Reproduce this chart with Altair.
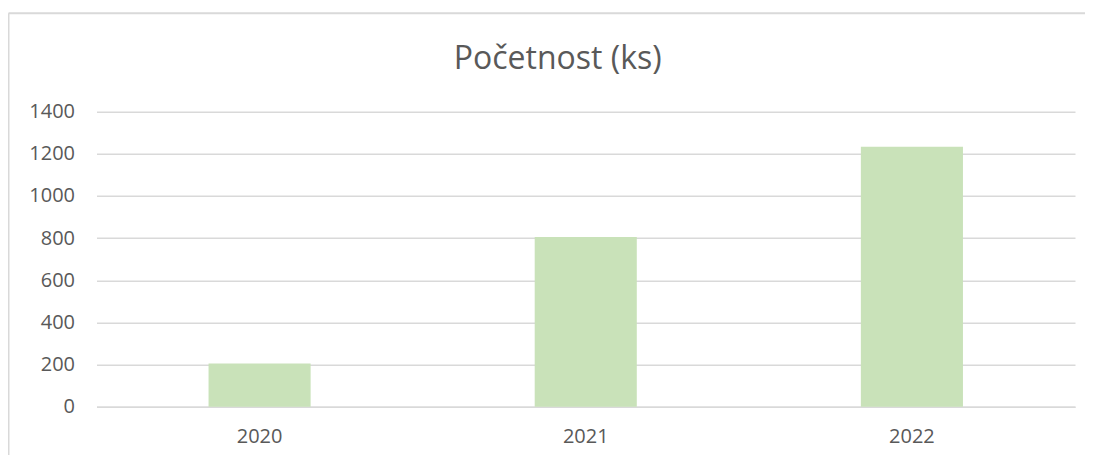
import altair as alt
import pandas as pd

years = ["2020", "2021", "2022"]
counts = [205, 805, 1234]
y_ticks = [0, 200, 400, 600, 800, 1000, 1200, 1400]

df = pd.DataFrame({"year": years, "count": counts})

TEXT = "#595959"
GRID = "#d9d9d9"
FONT = "Open Sans"

bars = alt.Chart(df).mark_bar(color="#C9E2B9").encode(
    x=alt.X("year:N", sort=years,
            scale=alt.Scale(paddingInner=0.687, paddingOuter=0.3435),
            axis=alt.Axis(title=None, labelAngle=0, ticks=False, domain=True,
                          domainColor=GRID, domainWidth=1.5, grid=False,
                          labelPadding=20, labelFontSize=20,
                          labelColor=TEXT, labelFont=FONT)),
    y=alt.Y("count:Q", scale=alt.Scale(domain=[0, 1400], nice=False),
            axis=alt.Axis(title=None, values=y_ticks, format="d", ticks=False,
                          domain=False, grid=True, gridColor=GRID, gridWidth=1.5,
                          labelPadding=22, labelFontSize=20,
                          labelColor=TEXT, labelFont=FONT)),
)

frame_top = alt.Chart(alt.Data(values=[{}])).mark_rule(color=GRID, strokeWidth=2).encode(
    x=alt.value(-88), x2=alt.value(1000), y=alt.value(-98.5)
)
frame_left = alt.Chart(alt.Data(values=[{}])).mark_rule(color=GRID, strokeWidth=2).encode(
    x=alt.value(-88), y=alt.value(-98.5), y2=alt.value(350)
)

chart = alt.layer(frame_top, frame_left, bars).properties(
    width=978.5,
    height=295,
    title=alt.TitleParams("Početnost (ks)", font=FONT, fontSize=32, color=TEXT,
                          fontWeight="normal", anchor="middle", dx=-28,
                          baseline="alphabetic", offset=-89),
    autosize=alt.AutoSizeParams(type="none"),
    padding={"left": 88.5, "top": 103.7, "right": 10, "bottom": 48},
).configure(background="white").configure_view(stroke="transparent", strokeWidth=0)

chart.save("out.html", embed_options={"renderer": "svg", "actions": False})
